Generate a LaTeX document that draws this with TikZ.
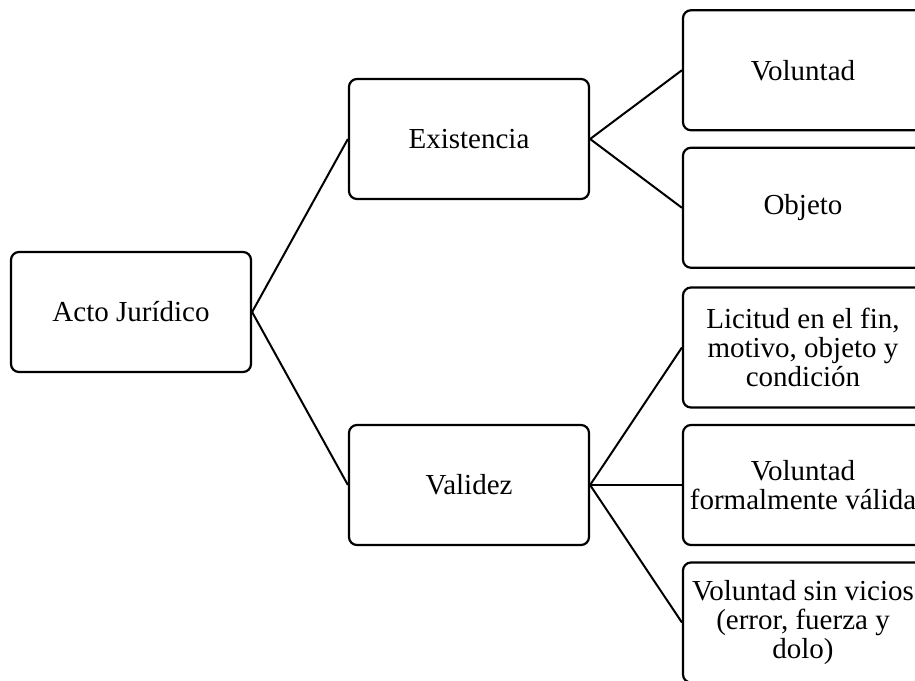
\documentclass[tikz,border=0pt]{standalone}
\usepackage{fontspec}
\setmainfont{Liberation Serif}
\usepackage{tikz}
\usetikzlibrary{trees}
\tikzset{
    actbox/.style={rectangle, draw=black, line width=2.2pt, rounded corners=8pt, fill=white,
        minimum width=240pt, minimum height=120pt, align=center, inner sep=2pt,
        font=\fontsize{29pt}{29pt}\selectfont}
}

\begin{document}
\begin{tikzpicture}[x=1pt, y=1pt, grow'=right,
        level 1/.style={level distance=338pt, sibling distance=346pt},
        level 2/.style={level distance=334pt, sibling distance=137.5pt},
        edge from parent/.style={draw, line width=2pt},
        edge from parent path={(\tikzparentnode.east) -- (\tikzchildnode.west)}]
    \useasboundingbox[fill=white] (0,0) rectangle (915,-680);
    \node[actbox] (acto) at (131,-312) {Acto Jurídico}
        child {node[actbox] (exist) {Existencia}
            child {node[actbox] (vol) {Voluntad}}
            child {node[actbox] (obj) {Objeto}}
        }
        child {node[actbox] (valid) {Validez}
            child {node[actbox] (licit) {Licitud en el fin,\\ motivo, objeto y\\ condición}}
            child {node[actbox] (volform) {Voluntad\\ formalmente válida}}
            child {node[actbox] (volsin) {Voluntad sin vicios\\ (error, fuerza y\\ dolo)}}
        };
\end{tikzpicture}
\end{document}
